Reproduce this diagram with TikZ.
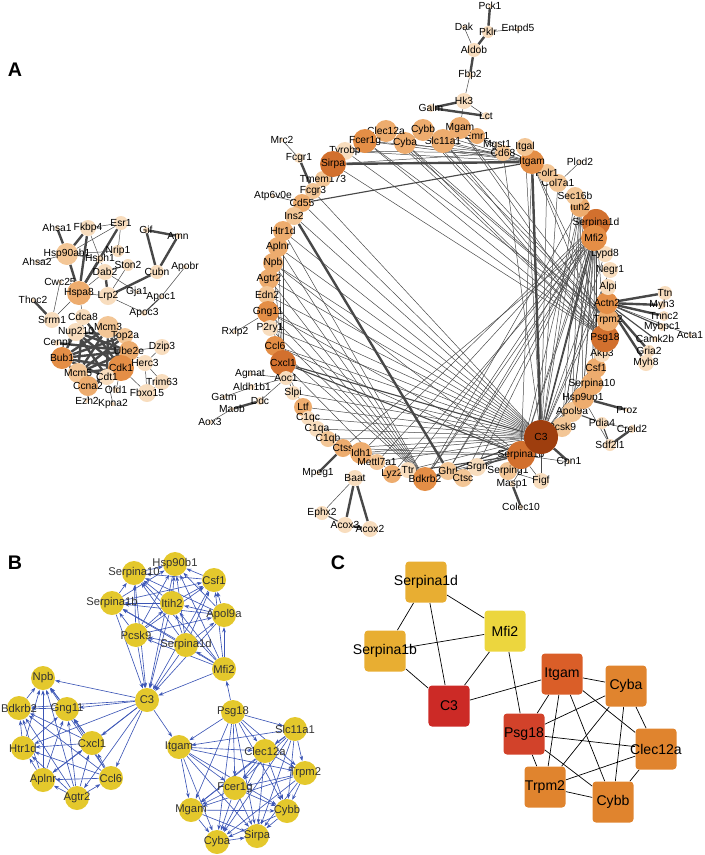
\documentclass[tikz,border=0pt]{standalone}
\usepackage{fontspec}
\setmainfont{Liberation Sans}
\usepackage{tikz}
\usetikzlibrary{positioning}
\usetikzlibrary{arrows.meta,backgrounds}

\definecolor{sh1}{RGB}{248,221,190}
\definecolor{sh2}{RGB}{243,198,150}
\definecolor{sh3}{RGB}{237,172,110}
\definecolor{sh4}{RGB}{228,142,70}
\definecolor{sh5}{RGB}{210,112,46}
\definecolor{sh6}{RGB}{158,62,14}
\definecolor{egray}{RGB}{72,72,72}
\definecolor{bblue}{RGB}{60,86,182}
\definecolor{byellow}{RGB}{228,200,44}
\definecolor{cgold}{RGB}{232,174,50}
\definecolor{cyel}{RGB}{236,214,62}
\definecolor{cred}{RGB}{204,42,38}
\definecolor{cpsg}{RGB}{210,66,42}
\definecolor{citg}{RGB}{218,94,40}
\definecolor{corg}{RGB}{224,132,46}

\begin{document}
\begin{tikzpicture}[x=0.025cm,y=-0.025cm,
	panel label/.style={font=\fontsize{14}{16}\selectfont\bfseries},
	a node/.style={circle, inner sep=0pt, minimum size=#1*0.5mm},
	a label/.style={font=\fontsize{7.3}{8}\selectfont, inner sep=0pt},
	a edge/.style={draw=egray, line width=0.35pt},
	a mid/.style={draw=egray, line width=0.8pt},
	a thick/.style={draw=egray, line width=1.7pt},
	b node/.style={circle, fill=byellow, inner sep=0pt, minimum size=6mm},
	b label/.style={font=\fontsize{8}{9}\selectfont, text=black!80, inner sep=0pt},
	b arrow/.style={draw=bblue, line width=0.45pt, -{Stealth[length=3.6pt,width=2.6pt]}},
	c node/.style={rounded corners=2.5pt, inner sep=0pt, minimum size=10.25mm},
	c label/.style={font=\fontsize{10}{12}\selectfont, inner sep=0pt},
	c edge/.style={draw=black, line width=0.5pt}]

	\useasboundingbox (0,0) rectangle (704,855);

	\node[panel label](labA) at (15,70){A};
	\node[panel label](labB) at (15,563){B};
	\node[panel label](labC) at (338,563){C};

	% A, left cluster
	\foreach \n/\x/\y/\r/\s in {Ahsa1/57/228/2/sh1, Fkbp4/88/228/8/sh1, Esr1/121/223/7/sh1,
		Gif/146/230/3/sh1, Amn/178/236/3/sh1, Hsp90ab1/67/254/11/sh2, Nrip1/118/251/6/sh1,
		Ahsa2/37/262/2/sh1, Hsph1/100/259/4/sh1, Ston2/128/265/6/sh1, Dab2/105/272/8/sh1,
		Cubn/157/272/7/sh1, Apobr/185/267/2/sh1, Cwc25/60/282/2/sh1, Hspa8/79/293/12/sh3,
		Lrp2/108/296/9/sh1, Gja1/137/292/2/sh1, Apoc1/161/297/2/sh1, Thoc2/33/300/2/sh1,
		Apoc3/144/313/3/sh1, Srrm1/52/320/8/sh1, Cdca8/83/317/8/sh1, Mcm3/108/327/11/sh2,
		Nup210/76/332/9/sh1, Top2a/125/336/8/sh2, Cenpt/57/343/3/sh1, Dzip3/162/347/8/sh1,
		Ube2e/129/351/10/sh3, Bub1/62/358/11/sh4, Cdk1/121/368/13/sh4, Herc3/145/363/8/sh1,
		Mcm5/78/373/10/sh2, Cdt1/107/377/8/sh1, Trim63/162/382/8/sh1, Ccna2/88/386/10/sh3,
		Ofd1/116/390/3/sh1, Fbxo15/147/393/9/sh1, Ezh2/87/401/2/sh1, Kpna2/113/404/2/sh1}
		\node[a node=\r, fill=\s, label={[a label]center:\n}](a\n) at (\x,\y){};

	% A, ring
	\foreach \n/\x/\y/\r/\s in {Tmem173/323/179/8/sh2, Fcgr3/313/191/8/sh2, Cd55/302/203/9/sh3,
		Ins2/294/216/9/sh2, Htr1d/283/231/10/sh3, Aplnr/278/247/10/sh3, Npb/273/263/10/sh3,
		Agtr2/269/279/10/sh3, Edn2/267/295/9/sh2, Gng11/268/312/11/sh4, P2ry1/270/328/8/sh1,
		Ccl6/275/346/10/sh4, Cxcl1/283/363/13/sh5, Aoc1/286/378/7/sh1, Slpi/293/393/7/sh1,
		Ltf/303/407/9/sh3, C1qc/308/418/7/sh1, C1qa/317/429/8/sh1, C1qb/328/439/8/sh2,
		Ctss/343/448/9/sh3, Idh1/361/453/11/sh3, Mettl7a1/377/462/8/sh2, Lyz2/392/474/9/sh3,
		Ttr/408/470/8/sh1, Bdkrb2/425/479/12/sh4, Ghrl/448/471/9/sh2, Ctsc/463/478/9/sh2,
		Srgn/477/467/9/sh1, Serping1/508/471/9/sh2, Serpina1b/521/455/14/sh5, Pcsk9/562/427/10/sh2,
		Apol9a/572/412/10/sh2, Hsp90b1/583/398/11/sh3, Serpina10/592/384/11/sh3, Csf1/596/368/10/sh3,
		Akp3/602/354/8/sh1, Psg18/605/338/14/sh5, Trpm2/608/320/11/sh3, Actn2/607/303/11/sh4,
		Alpi/608/287/8/sh1, Negr1/610/270/8/sh1, Lypd8/605/254/8/sh1, Serpina1d/596/223/14/sh5,
		Mfi2/594/238/13/sh4, Itih2/580/207/10/sh3, Sec16b/575/196/9/sh2, Col7a1/558/183/9/sh2,
		Folr1/547/173/9/sh2, Itgam/532/162/12/sh4, Itgal/525/147/9/sh2, Cd68/503/153/8/sh2,
		Mgst1/497/145/3/sh1, Emr1/477/136/8/sh3, Mgam/460/128/11/sh3, Slc11a1/443/141/12/sh3,
		Cybb/423/130/11/sh3, Cyba/405/143/11/sh3, Clec12a/386/131/11/sh3, Fcer1g/365/141/12/sh4,
		Tyrobp/345/151/9/sh1, Sirpa/333/164/13/sh5, C3/541/437/17/sh6}
		\node[a node=\r, fill=\s, label={[a label]center:\n}](a\n) at (\x,\y){};

	% A, outer nodes
	\foreach \n/\x/\y/\r/\s in {Mrc2/282/140/2/sh1, Fcgr1/299/158/5/sh1, Atp6v0e/273/196/2/sh1,
		Rxfp2/235/332/2/sh1, Agmat/250/374/2/sh1, Aldh1b1/252/387/3/sh1, Gatm/224/397/2/sh1,
		Ddc/260/401/4/sh1, Maob/232/409/2/sh1, Aox3/210/422/2/sh1, Mpeg1/318/473/2/sh1,
		Baat/355/478/8/sh1, Ephx2/322/513/7/sh1, Acox3/345/525/8/sh1, Acox2/370/529/8/sh1,
		Masp1/512/484/3/sh1, Colec10/521/507/2/sh1, Figf/541/481/8/sh1, Cpn1/569/462/2/sh1,
		Pdia4/602/423/6/sh1, Creld2/632/429/4/sh1, Sdf2l1/610/445/6/sh1, Proz/627/410/2/sh1,
		Ttn/665/293/7/sh1, Myh3/662/305/4/sh1, Tnnc2/664/316/5/sh1, Mybpc1/662/327/4/sh1,
		Acta1/690/335/2/sh1, Camk2b/655/339/3/sh1, Gria2/649/351/6/sh1, Myh8/646/363/8/sh1,
		Plod2/580/162/2/sh1, Galm/431/108/4/sh1, Hk3/464/101/8/sh1, Lct/486/116/4/sh1,
		Fbp2/470/75/3/sh1, Aldob/474/50/7/sh1, Dak/464/27/2/sh1, Pklr/488/32/6/sh1,
		Pck1/490/6/2/sh1, Entpd5/518/29/2/sh1}
		\node[a node=\r, fill=\s, label={[a label]center:\n}](a\n) at (\x,\y){};

	% B
	\foreach \n/\x/\y in {Hsp90b1/175/564, Serpina10/134/573, Csf1/214/580, Serpina1b/112/603,
		Itih2/172/603, Apol9a/224/615, Pcsk9/136/635, Serpina1d/186/645, Mfi2/224/669, C3/147/700,
		Npb/43/678, Bdkrb2/19/708, Gng11/67/709, Htr1d/23/748, Cxcl1/92/743, Aplnr/43/780,
		Ccl6/111/778, Agtr2/77/798, Psg18/233/712, Slc11a1/295/729, Itgam/179/747, Clec12a/265/751,
		Trpm2/305/773, Fcer1g/235/788, Mgam/191/810, Cybb/287/811, Cyba/217/842, Sirpa/257/836}
		\node[b node, label={[b label]center:\n}](b\n) at (\x,\y){};

	% C
	\foreach \n/\x/\y/\s in {Serpina1d/426/582/cgold, Mfi2/505/631/cyel, Serpina1b/385/651/cgold,
		C3/449/706/cred, Itgam/562/674/citg, Cyba/626/686/corg, Psg18/524/734/cpsg,
		Clec12a/656/749/corg, Trpm2/545/787/corg, Cybb/613/802/corg}
		\node[c node, fill=\s, label={[c label]center:\n}](c\n) at (\x,\y){};

	\begin{scope}[on background layer]
	% A edges
	\path[a thick]
	(aHsp90ab1) edge (aAhsa1) edge (aFkbp4) edge (aHspa8)
	(aHspa8) edge (aFkbp4) edge (aEsr1) edge (aHsph1)
	(aLrp2) edge (aDab2) edge (aCubn)
	(aCubn) edge (aGif) edge (aAmn)
	(aGif) edge (aAmn)
	(aSrrm1) edge (aThoc2)
	(aCdk1) edge (aCdca8) edge (aNup210) edge (aMcm3) edge (aBub1) edge (aMcm5) edge (aCcna2) edge (aTop2a)
	(aBub1) edge (aMcm3) edge (aTop2a) edge (aUbe2e) edge (aCcna2) edge (aCdca8) edge (aCdt1)
	(aMcm5) edge (aMcm3) edge (aTop2a) edge (aUbe2e) edge (aCdca8)
	(aCdt1) edge (aMcm3) edge (aNup210) edge (aCcna2)
	(aNup210) edge (aTop2a) edge (aUbe2e)
	(aCenpt) edge (aUbe2e)
	(aItgam) edge (aSirpa) edge (aC3)
	(aIns2) edge (aGhrl)
	(aFcgr1) edge (aFcgr3)
	(aMaob) edge (aDdc)
	(aMpeg1) edge (aCtss)
	(aBaat) edge (aAcox3) edge (aAcox2)
	(aAcox3) edge (aAcox2)
	(aMasp1) edge (aColec10)
	(aCpn1) edge (aC3)
	(aProz) edge (aHsp90b1)
	(aSdf2l1) edge (aCreld2)
	(aActn2) edge (aTtn) edge (aMyh3) edge (aTnnc2) edge (aGria2) edge (aMyh8)
	(aHk3) edge (aGalm)
	(aGalm) edge (aLct)
	(aFbp2) edge (aAldob)
	(aAldob) edge (aPklr)
	(aPklr) edge (aPck1);
	\path[a mid]
	(aApoc1) edge (aApoc3)
	(aC3) edge (aCxcl1) edge (aBdkrb2) edge (aSerpina1d) edge (aMfi2)
	(aSerpina1b) edge (aCxcl1) edge (aLyz2) edge (aBdkrb2)
	(aCd55) edge (aItgam)
	(aPdia4) edge (aApol9a) edge (aSdf2l1)
	(aActn2) edge (aMybpc1) edge (aCamk2b)
	(aEphx2) edge (aAcox3);
	\path[a edge]
	(aHsp90ab1) edge (aAhsa2) edge (aNrip1) edge (aEsr1) edge (aHsph1)
	(aEsr1) edge (aFkbp4) edge (aNrip1)
	(aHsph1) edge (aFkbp4) edge (aDab2)
	(aHspa8) edge (aDab2) edge (aLrp2) edge (aSrrm1) edge (aCdca8)
	(aSrrm1) edge (aCwc25)
	(aDab2) edge (aSton2) edge (aGja1)
	(aLrp2) edge (aSton2) edge (aApoc3)
	(aApobr) edge (aApoc1)
	(aHerc3) edge (aDzip3) edge (aUbe2e) edge (aTrim63) edge (aFbxo15)
	(aUbe2e) edge (aDzip3)
	(aFbxo15) edge (aTrim63) edge (aCdk1)
	(aOfd1) edge (aCdk1)
	(aEzh2) edge (aCcna2)
	(aKpna2) edge (aCdt1)
	(aC3) edge (aCcl6) edge (aGng11) edge (aNpb) edge (aAgtr2) edge (aAplnr) edge (aHtr1d) edge (aEdn2)
		edge (aP2ry1) edge (aIns2) edge (aCd55) edge (aFcgr3) edge (aAoc1) edge (aSlpi) edge (aLtf)
		edge (aC1qc) edge (aC1qa) edge (aC1qb) edge (aCtss) edge (aIdh1) edge (aMettl7a1) edge (aTtr)
		edge (aGhrl) edge (aCtsc) edge (aSrgn) edge (aSerping1) edge (aMasp1) edge (aFigf) edge (aItih2)
		edge (aCsf1) edge (aSerpina10) edge (aHsp90b1) edge (aApol9a) edge (aPcsk9) edge (aCd68)
		edge (aItgal) edge (aFolr1) edge (aCol7a1) edge (aSec16b) edge (aLypd8) edge (aNegr1)
		edge (aAlpi) edge (aAkp3)
	(aSerpina1b) edge (aCcl6) edge (aGng11) edge (aNpb) edge (aIdh1) edge (aCtss) edge (aGhrl)
		edge (aSerping1) edge (aFigf) edge (aCpn1) edge (aSerpina1d) edge (aMfi2) edge (aItih2) edge (aItgam)
	(aSerpina1d) edge (aBdkrb2) edge (aGhrl) edge (aCtsc) edge (aSrgn) edge (aTtr) edge (aMettl7a1)
		edge (aIdh1) edge (aPcsk9) edge (aApol9a) edge (aHsp90b1) edge (aSerpina10) edge (aCsf1) edge (aPsg18)
	(aMfi2) edge (aBdkrb2) edge (aLyz2) edge (aCtss) edge (aGhrl) edge (aPcsk9) edge (aApol9a)
		edge (aHsp90b1) edge (aCsf1)
	(aItih2) edge (aPcsk9) edge (aApol9a) edge (aHsp90b1) edge (aCsf1) edge (aBdkrb2)
	(aPsg18) edge (aItgam) edge (aCybb) edge (aCyba) edge (aSlc11a1) edge (aClec12a) edge (aFcer1g)
		edge (aMgam) edge (aSirpa) edge (aTyrobp)
	(aTrpm2) edge (aItgam) edge (aCybb) edge (aCyba) edge (aSlc11a1) edge (aClec12a) edge (aFcer1g) edge (aMgam)
	(aItgam) edge (aCybb) edge (aCyba) edge (aClec12a) edge (aFcer1g) edge (aMgam) edge (aSlc11a1)
		edge (aTyrobp) edge (aEmr1)
	(aCd68) edge (aSirpa) edge (aFcer1g) edge (aTyrobp) edge (aEmr1)
	(aBdkrb2) edge (aCcl6) edge (aGng11) edge (aNpb) edge (aAgtr2) edge (aAplnr) edge (aHtr1d)
		edge (aEdn2) edge (aP2ry1)
	(aCxcl1) edge (aGng11) edge (aNpb) edge (aAplnr) edge (aHtr1d) edge (aAgtr2) edge (aSlpi)
		edge (aLtf) edge (aLyz2)
	(aGng11) edge (aHtr1d) edge (aAplnr) edge (aNpb)
	(aC1qa) edge (aC1qb) edge (aC1qc)
	(aSirpa) edge (aTyrobp) edge (aFcer1g)
	(aMrc2) edge (aFcgr1)
	(aAtp6v0e) edge (aCd55)
	(aRxfp2) edge (aGng11)
	(aAoc1) edge (aAgmat) edge (aAldh1b1) edge (aDdc)
	(aGatm) edge (aAldh1b1)
	(aAox3) edge (aMaob)
	(aBaat) edge (aEphx2)
	(aMasp1) edge (aSerping1)
	(aFigf) edge (aSerping1)
	(aPdia4) edge (aCreld2)
	(aSdf2l1) edge (aHsp90b1)
	(aActn2) edge (aActa1)
	(aPlod2) edge (aCol7a1)
	(aHk3) edge (aMgam) edge (aLct) edge (aFbp2)
	(aAldob) edge (aDak)
	(aPklr) edge (aEntpd5);

	% B edges
	\foreach \a [count=\i] in {Hsp90b1,Serpina10,Csf1,Serpina1b,Itih2,Apol9a,Pcsk9,Serpina1d,Mfi2}{
		\draw[b arrow] (b\a) -- (bC3);
		\foreach \b [count=\j] in {Hsp90b1,Serpina10,Csf1,Serpina1b,Itih2,Apol9a,Pcsk9,Serpina1d,Mfi2}
			{\ifnum\j>\i \draw[b arrow] (b\b) -- (b\a);\fi}}
	\foreach \a [count=\i] in {Npb,Bdkrb2,Gng11,Htr1d,Cxcl1,Aplnr,Ccl6,Agtr2}{
		\draw[b arrow] (bC3) -- (b\a);
		\foreach \b [count=\j] in {Npb,Bdkrb2,Gng11,Htr1d,Cxcl1,Aplnr,Ccl6,Agtr2}
			{\ifnum\j>\i \draw[b arrow] (b\b) -- (b\a);\fi}}
	\foreach \a [count=\i] in {Psg18,Slc11a1,Itgam,Clec12a,Trpm2,Fcer1g,Mgam,Cybb,Cyba,Sirpa}{
		\foreach \b [count=\j] in {Psg18,Slc11a1,Itgam,Clec12a,Trpm2,Fcer1g,Mgam,Cybb,Cyba,Sirpa}
			{\ifnum\j>\i \draw[b arrow] (b\a) -- (b\b);\fi}}
	\draw[b arrow] (bC3) -- (bItgam);
	\draw[b arrow] (bPsg18) -- (bMfi2);

	% C edges
	\path[c edge]
	(cSerpina1d) edge (cSerpina1b) edge (cC3) edge (cMfi2)
	(cSerpina1b) edge (cMfi2) edge (cC3)
	(cMfi2) edge (cC3) edge (cPsg18)
	(cC3) edge (cItgam)
	(cItgam) edge (cCyba) edge (cClec12a) edge (cPsg18) edge (cTrpm2) edge (cCybb)
	(cCyba) edge (cPsg18) edge (cTrpm2) edge (cCybb) edge (cClec12a)
	(cPsg18) edge (cClec12a) edge (cTrpm2) edge (cCybb)
	(cClec12a) edge (cTrpm2) edge (cCybb)
	(cTrpm2) edge (cCybb);
	\end{scope}
\end{tikzpicture}
\end{document}
